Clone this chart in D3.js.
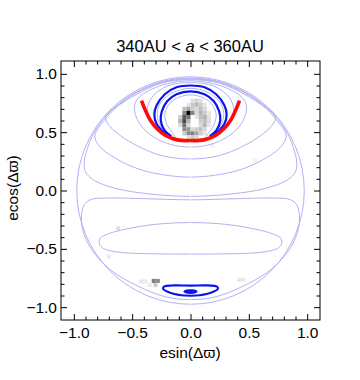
<!DOCTYPE html>
<html>
<head>
<meta charset="utf-8">
<script src="https://cdn.jsdelivr.net/npm/d3@7"></script>
<style>
body { margin: 0; background: #fff; }
text { font-family: "Liberation Sans", Arial, sans-serif; }
</style>
</head>
<body>
<div id="chart"></div>
<script>
var svgWidth = 360;
var svgHeight = 380;

var frame = { left: 61, right: 320, top: 61, bottom: 320 };

// axis ticks
var majorTicks = [-1.0, -0.5, 0.0, 0.5, 1.0];
var minorTicks = [-0.9, -0.8, -0.7, -0.6, -0.4, -0.3, -0.2, -0.1, 0.1, 0.2, 0.3, 0.4, 0.6, 0.7, 0.8, 0.9];

// boundary circle (e ~ 1)
var boundaryRadii = [0.975];

// light contours, left half only, from top of the loop (x = 0) to its bottom (x = 0)
var loopHalves = [
  [[0, 0.94], [-0.2, 0.915], [-0.36, 0.855], [-0.45, 0.79], [-0.48, 0.72], [-0.465, 0.63], [-0.41, 0.54], [-0.31, 0.455], [-0.17, 0.395], [0, 0.372]],
  [[0, 0.95], [-0.25, 0.92], [-0.47, 0.82], [-0.6, 0.74], [-0.69, 0.68], [-0.73, 0.63], [-0.7, 0.56], [-0.6, 0.47], [-0.45, 0.38], [-0.25, 0.3], [0, 0.27]],
  [[0, 0.957], [-0.25, 0.926], [-0.48, 0.828], [-0.63, 0.72], [-0.74, 0.6], [-0.8, 0.52], [-0.82, 0.46], [-0.78, 0.38], [-0.65, 0.28], [-0.4, 0.17], [0, 0.115]],
  [[0, 0.963], [-0.25, 0.932], [-0.482, 0.834], [-0.625, 0.735], [-0.74, 0.62], [-0.83, 0.49], [-0.88, 0.37], [-0.91, 0.25], [-0.9, 0.16], [-0.83, 0.09], [-0.65, 0.02], [-0.35, -0.03], [0, -0.05]],
  [[0, -0.08], [-0.4, -0.07], [-0.72, -0.065], [-0.86, -0.08], [-0.92, -0.14], [-0.93, -0.3], [-0.88, -0.45], [-0.79, -0.58], [-0.66, -0.7], [-0.45, -0.82], [-0.22, -0.91], [0, -0.935]],
  [[0, -0.275], [-0.3, -0.29], [-0.55, -0.33], [-0.7, -0.37], [-0.775, -0.41], [-0.78, -0.46], [-0.74, -0.5], [-0.6, -0.53], [-0.3, -0.543], [0, -0.545]]
];

// light contours inside the resonance island (open at the bottom, against the red curve)
var islandHalves = [
  [[0, 0.925], [-0.2, 0.895], [-0.33, 0.8], [-0.37, 0.7], [-0.35, 0.6], [-0.29, 0.53], [-0.22, 0.48]],
  [[0, 0.875], [-0.15, 0.84], [-0.25, 0.76], [-0.285, 0.67], [-0.27, 0.58], [-0.22, 0.51], [-0.18, 0.47]],
  [[0, 0.82], [-0.12, 0.79], [-0.19, 0.73], [-0.22, 0.65], [-0.2, 0.56], [-0.16, 0.5], [-0.13, 0.46]]
];

// thick blue contours
var blueHalves = [
  [[0, 0.9], [-0.12, 0.885], [-0.22, 0.825], [-0.29, 0.73], [-0.31, 0.65], [-0.29, 0.57], [-0.245, 0.515], [-0.2, 0.48]],
  [[0, 0.85], [-0.12, 0.825], [-0.2, 0.765], [-0.245, 0.68], [-0.255, 0.6], [-0.225, 0.52], [-0.165, 0.465]]
];
var blueLoopHalves = [
  [[0, -0.815], [-0.15, -0.814], [-0.225, -0.822], [-0.235, -0.842], [-0.18, -0.875], [-0.08, -0.898], [0, -0.902]]
];
var blueBlobHalves = [
  [[0, -0.852], [-0.035, -0.855], [-0.055, -0.866], [-0.035, -0.877], [0, -0.88]]
];

// red limiting curve
var redHalf = [[-0.42, 0.771], [-0.386, 0.686], [-0.343, 0.6], [-0.286, 0.529], [-0.214, 0.471], [-0.114, 0.434], [0, 0.428]];

// histogram cells: [x, y, density]
var cellSize = 0.035;
var heatCells = [
  [0.0175, 0.77, 0.12], [0.0525, 0.77, 0.18], [0.0875, 0.77, 0.12],
  [-0.0175, 0.735, 0.1], [0.0175, 0.735, 0.22], [0.0525, 0.735, 0.28], [0.0875, 0.735, 0.2], [0.1225, 0.735, 0.1],
  [-0.0525, 0.70, 0.25], [-0.0175, 0.70, 0.35], [0.0175, 0.70, 0.2], [0.0525, 0.70, 0.15], [0.0875, 0.70, 0.25], [0.1225, 0.70, 0.15],
  [-0.0525, 0.665, 0.45], [-0.0175, 0.665, 1.0], [0.0175, 0.665, 0.5], [0.0525, 0.665, 0.15], [0.0875, 0.665, 0.3], [0.1225, 0.665, 0.2], [0.1575, 0.665, 0.1],
  [-0.0875, 0.63, 0.2], [-0.0525, 0.63, 0.65], [-0.0175, 0.63, 0.55], [0.0525, 0.63, 0.1], [0.0875, 0.63, 0.25], [0.1225, 0.63, 0.3], [0.1575, 0.63, 0.12],
  [-0.0875, 0.595, 0.3], [-0.0525, 0.595, 0.7], [-0.0175, 0.595, 0.3], [0.0875, 0.595, 0.2], [0.1225, 0.595, 0.25], [0.1575, 0.595, 0.15],
  [-0.0875, 0.56, 0.15], [-0.0525, 0.56, 0.55], [-0.0175, 0.56, 0.15], [0.0875, 0.56, 0.15], [0.1225, 0.56, 0.3], [0.1575, 0.56, 0.1],
  [-0.0525, 0.525, 0.45], [-0.0175, 0.525, 0.4], [0.0175, 0.525, 0.15], [0.0525, 0.525, 0.2], [0.0875, 0.525, 0.25], [0.1225, 0.525, 0.15],
  [-0.0525, 0.49, 0.2], [-0.0175, 0.49, 0.45], [0.0175, 0.49, 0.5], [0.0525, 0.49, 0.35], [0.0875, 0.49, 0.2], [0.1225, 0.49, 0.1],
  [-0.0175, 0.455, 0.12], [0.0175, 0.455, 0.2], [0.0525, 0.455, 0.15],
  [0.19, 0.385, 0.06], [0.557, 0.257, 0.05],
  [-0.42, -0.78, 0.1], [-0.385, -0.78, 0.08], [-0.315, -0.775, 0.5], [-0.28, -0.775, 0.45], [-0.3, -0.81, 0.2], [-0.35, -0.81, 0.08],
  [-0.62, -0.325, 0.12], [-0.70, -0.565, 0.08], [0.42, -0.765, 0.1], [0.455, -0.765, 0.08]
];

var svg = d3
  .select("#chart")
  .append("svg")
  .attr("width", svgWidth)
  .attr("height", svgHeight);

var xScale = d3.scaleLinear().domain([-1.11, 1.11]).range([frame.left, frame.right]);
var yScale = d3.scaleLinear().domain([-1.11, 1.11]).range([frame.bottom, frame.top]);

var mirror = p => [-p[0], p[1]];

// closed loop from a left half running top -> bottom
function closeLoop(half) {
  return half.concat(half.slice(1, -1).reverse().map(mirror));
}

// open curve: left side bottom -> top, then right side top -> bottom
function openCurve(half) {
  return half.slice().reverse().concat(half.slice(1).map(mirror));
}

var closedLine = d3.line()
  .x(d => xScale(d[0]))
  .y(d => yScale(d[1]))
  .curve(d3.curveCatmullRomClosed);

var openLine = d3.line()
  .x(d => xScale(d[0]))
  .y(d => yScale(d[1]))
  .curve(d3.curveCatmullRom);

var plot = svg.append("g");

var gray = d3.scaleLinear().domain([0, 1]).range(["#ffffff", "#000000"]);

plot.selectAll("rect.cell")
  .data(heatCells)
  .enter()
  .append("rect")
  .attr("class", "cell")
  .attr("x", d => xScale(d[0] - cellSize / 2))
  .attr("y", d => yScale(d[1] + cellSize / 2))
  .attr("width", xScale(cellSize) - xScale(0))
  .attr("height", yScale(0) - yScale(cellSize))
  .attr("fill", d => gray(d[2]));

var lightColor = "#a8a8f2";

plot.selectAll("circle.edge")
  .data(boundaryRadii)
  .enter()
  .append("circle")
  .attr("class", "edge")
  .attr("cx", xScale(0))
  .attr("cy", yScale(0))
  .attr("r", d => xScale(d) - xScale(0))
  .attr("fill", "none")
  .attr("stroke", lightColor)
  .attr("stroke-width", 0.9);

plot.selectAll("path.loop")
  .data(loopHalves)
  .enter()
  .append("path")
  .attr("class", "loop")
  .attr("d", d => closedLine(closeLoop(d)))
  .attr("fill", "none")
  .attr("stroke", lightColor)
  .attr("stroke-width", 0.9);

plot.selectAll("path.island")
  .data(islandHalves)
  .enter()
  .append("path")
  .attr("class", "island")
  .attr("d", d => openLine(openCurve(d)))
  .attr("fill", "none")
  .attr("stroke", lightColor)
  .attr("stroke-width", 0.9);

// white seam along x = 0
plot.append("line")
  .attr("x1", xScale(0))
  .attr("x2", xScale(0))
  .attr("y1", yScale(-1.0))
  .attr("y2", yScale(0.4))
  .attr("stroke", "#fff")
  .attr("stroke-width", 0.8);

var blue = "#0a14f0";

plot.selectAll("path.blue")
  .data(blueHalves)
  .enter()
  .append("path")
  .attr("class", "blue")
  .attr("d", d => openLine(openCurve(d)))
  .attr("fill", "none")
  .attr("stroke", blue)
  .attr("stroke-width", 2.2);

plot.selectAll("path.blueloop")
  .data(blueLoopHalves)
  .enter()
  .append("path")
  .attr("class", "blueloop")
  .attr("d", d => closedLine(closeLoop(d)))
  .attr("fill", "none")
  .attr("stroke", blue)
  .attr("stroke-width", 2.2);

plot.selectAll("path.blob")
  .data(blueBlobHalves)
  .enter()
  .append("path")
  .attr("class", "blob")
  .attr("d", d => closedLine(closeLoop(d)))
  .attr("fill", blue)
  .attr("stroke", blue)
  .attr("stroke-width", 1.5);

plot.append("path")
  .attr("d", openLine(redHalf.concat(redHalf.slice(0, -1).reverse().map(mirror))))
  .attr("fill", "none")
  .attr("stroke", "#ff0a0a")
  .attr("stroke-width", 3.6);

// frame and ticks
var fmt = d3.format(".1f");

function addAxis(axis, transform, padding, labelled) {
  var g = svg.append("g")
    .attr("transform", transform)
    .call(axis.tickValues(majorTicks).tickSize(-6).tickSizeOuter(0).tickPadding(padding)
      .tickFormat(labelled ? fmt : ""));
  g.select(".domain").remove();
  g.selectAll("text")
    .attr("fill", "#000")
    .style("font-size", "15.5px")
    .style("font-family", '"Liberation Sans", Arial, sans-serif');
  return g;
}

addAxis(d3.axisBottom(xScale), `translate(0, ${frame.bottom})`, 7, true);
addAxis(d3.axisLeft(yScale), `translate(${frame.left}, 0)`, 4, true);
addAxis(d3.axisTop(xScale), `translate(0, ${frame.top})`, 0, false);
addAxis(d3.axisRight(yScale), `translate(${frame.right}, 0)`, 0, false);

var minorAxes = [
  [d3.axisBottom(xScale), `translate(0, ${frame.bottom})`],
  [d3.axisLeft(yScale), `translate(${frame.left}, 0)`],
  [d3.axisTop(xScale), `translate(0, ${frame.top})`],
  [d3.axisRight(yScale), `translate(${frame.right}, 0)`]
];
minorAxes.forEach(a => {
  var g = svg.append("g")
    .attr("transform", a[1])
    .call(a[0].tickValues(minorTicks).tickSize(-3.5).tickSizeOuter(0).tickFormat(""));
  g.select(".domain").remove();
});

svg.append("rect")
  .attr("x", frame.left)
  .attr("y", frame.top)
  .attr("width", frame.right - frame.left)
  .attr("height", frame.bottom - frame.top)
  .attr("fill", "none")
  .attr("stroke", "#000")
  .attr("stroke-width", 1);

// title and axis labels
var title = svg.append("text")
  .attr("x", 190)
  .attr("y", 52)
  .attr("text-anchor", "middle")
  .style("font-size", "16.5px");
title.append("tspan").text("340AU < ");
title.append("tspan").style("font-style", "italic").text("a");
title.append("tspan").text(" < 360AU");

svg.append("text")
  .attr("x", 190)
  .attr("y", 358)
  .attr("text-anchor", "middle")
  .style("font-size", "15.5px")
  .text("esin(\u0394\u03d6)");

svg.append("text")
  .attr("transform", "translate(18, 188) rotate(-90)")
  .attr("text-anchor", "middle")
  .style("font-size", "15.5px")
  .text("ecos(\u0394\u03d6)");
</script>
</body>
</html>
